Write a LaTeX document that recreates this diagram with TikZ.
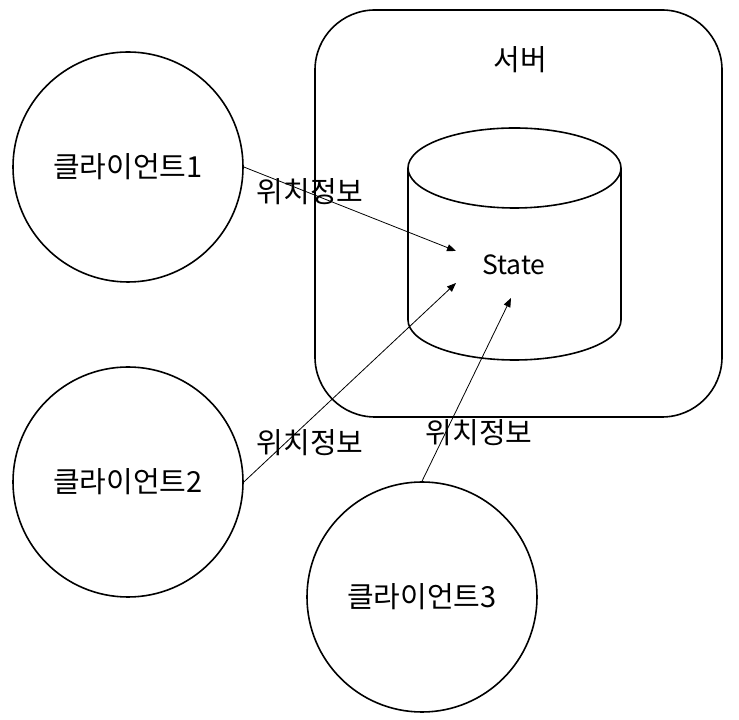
\documentclass[tikz,border=0pt]{standalone}
\usepackage{fontspec}
\setmainfont{Noto Sans CJK KR}
\usetikzlibrary{arrows.meta}
\begin{document}
\begin{tikzpicture}[x=1pt,y=1pt,
  client/.style={circle,draw,line width=1.6pt,minimum size=230pt,inner sep=0pt,font=\fontsize{29}{32}\selectfont},
  lbl/.style={font=\fontsize{29}{32}\selectfont,inner sep=0pt},
  conn/.style={line width=0.8pt,-{Triangle[length=9pt,width=7pt]}}]
\useasboundingbox (0,0) rectangle (739,720);
\node[client] (c1) at (128,553) {클라이언트1};
\node[client] (c2) at (128,238) {클라이언트2};
\node[client] (c3) at (422,123) {클라이언트3};
\draw[line width=1.6pt,rounded corners=60pt] (315,303) rectangle (722,710);
\node[lbl] (srv) at (520,660) {서버};
% cylinder
\draw[line width=1.6pt] (408,552) -- (408,400) arc[start angle=180,end angle=360,x radius=106.5,y radius=40] -- (621,552);
\draw[line width=1.6pt] (514.5,552) ellipse[x radius=106.5,y radius=40];
\node[lbl,font=\fontsize{26.5}{30}\selectfont] (st) at (514,455) {State};
\coordinate (t1) at (456,469);
\coordinate (t2) at (456,437);
\coordinate (t3) at (511,422);
\draw[conn] (c1.east) -- (t1);
\draw[conn] (c2.east) -- (t2);
\draw[conn] (c3.north) -- (t3);
\node[lbl] (l1) at (310,528) {위치정보};
\node[lbl] (l2) at (310,277) {위치정보};
\node[lbl] (l3) at (479,287) {위치정보};
\end{tikzpicture}
\end{document}
